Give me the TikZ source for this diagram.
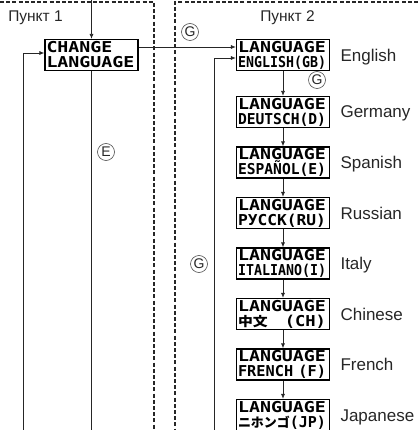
\documentclass[tikz,border=0pt]{standalone}
\usepackage{fontspec}
\usepackage{graphicx}
\setmainfont{Liberation Sans}
\newfontfamily\lcdfont{DejaVu Sans Mono}
\newfontfamily\cjk{Noto Sans CJK JP}
\usetikzlibrary{arrows.meta}
\newcommand\lcdA[1]{\scalebox{1.218}[1]{#1}}
\newcommand\lcdB[1]{\resizebox{88pt}{\height}{#1}}
\newcommand\cjkt[1]{\raisebox{0pt}[10pt][1pt]{\cjk\fontsize{13}{13}\selectfont #1}}
\tikzset{
  ln/.style={draw=black!85, line width=0.8pt},
  arr/.style={ln, -{Latex[length=5pt,width=4pt]}},
  dsh/.style={draw=black!85, line width=1.1pt, dash pattern=on 4pt off 2.2pt},
  lcd/.style={draw=black, line width=1.1pt, minimum width=93pt, minimum height=31pt,
    inner sep=0pt, text width=90pt, align=left,
    font=\lcdfont\bfseries\fontsize{15}{15}\selectfont},
  lang/.style={anchor=base west, font=\fontsize{17}{17}\selectfont, text=black!85},
  punkt/.style={font=\fontsize{15.5}{16}\selectfont, text=black!85},
  circ/.style={circle, draw=black!70, line width=0.6pt, inner sep=0pt, minimum size=17pt,
    font=\fontsize{14}{14}\selectfont, text=black!85}
}
\begin{document}
\begin{tikzpicture}[x=1pt,y=-1pt]
\useasboundingbox (0,0) rectangle (418,430);
% dashed frames
\draw[dsh] (0,2) -- (154,2) -- (154,430);
\draw[dsh] (418,2) -- (175,2) -- (175,430);
% headings
\node[punkt] (p1) at (35.5,17.5) {Пункт 1};
\node[punkt] (p2) at (287.5,17.5) {Пункт 2};
% boxes
\node[lcd] (chg) at (91.5,55) {\lcdA{CHANGE}\\\lcdA{LANGUAGE}};
\node[lcd] (eng) at (283,55) {\lcdA{LANGUAGE}\\\lcdB{ENGLISH(GB)}};
\node[lcd] (ger) at (283,112) {\lcdA{LANGUAGE}\\\lcdB{DEUTSCH(D)}};
\node[lcd] (spa) at (283,162.5) {\lcdA{LANGUAGE}\\\lcdB{ESPAÑOL(E)}};
\node[lcd] (rus) at (283,213) {\lcdA{LANGUAGE}\\\lcdB{РУССК(RU)}};
\node[lcd] (ita) at (283,263.5) {\lcdA{LANGUAGE}\\\lcdB{ITALIANO(I)}};
\node[lcd] (chi) at (283,314) {\lcdA{LANGUAGE}\\\lcdB{\cjkt{中文}\ \ \ (CH)}};
\node[lcd] (fre) at (283,364.5) {\lcdA{LANGUAGE}\\\lcdB{FRENCH (F)}};
\node[lcd] (jap) at (283,415) {\lcdA{LANGUAGE}\\\lcdB{\cjkt{ニホンゴ}(JP)}};
% language labels
\node[lang] (lEng) at (337,61.5) {English};
\node[lang] (lGer) at (337,118) {Germany};
\node[lang] (lSpa) at (337,168.5) {Spanish};
\node[lang] (lRus) at (337,219) {Russian};
\node[lang] (lIta) at (337,269.5) {Italy};
\node[lang] (lChi) at (337,320) {Chinese};
\node[lang] (lFre) at (337,370.5) {French};
\node[lang] (lJap) at (337,421) {Japanese};
% circled letters
\node[circ] (g1) at (190,32) {G};
\node[circ] (g2) at (317,80) {G};
\node[circ] (e1) at (106,152) {E};
\node[circ] (g3) at (199,264) {G};
% free ends
\coordinate (topin) at (91.5,0);
\coordinate (lb) at (23,430);
\coordinate (cb) at (91.5,430);
\coordinate (rb) at (214,430);
% connectors
\draw[arr] (topin) -- (chg.north);
\draw[arr] ([yshift=8pt]chg.east) -- ([yshift=8pt]eng.west);
\draw[arr] (lb) |- ([yshift=2pt]chg.west);
\draw[ln] (chg.south) -- (cb);
\draw[arr] (rb) |- ([yshift=-3pt]eng.west);
\draw[arr] (eng.south) -- (ger.north);
\draw[arr] (ger.south) -- (spa.north);
\draw[arr] (spa.south) -- (rus.north);
\draw[arr] (rus.south) -- (ita.north);
\draw[arr] (ita.south) -- (chi.north);
\draw[arr] (chi.south) -- (fre.north);
\draw[arr] (fre.south) -- (jap.north);
\end{tikzpicture}
\end{document}
